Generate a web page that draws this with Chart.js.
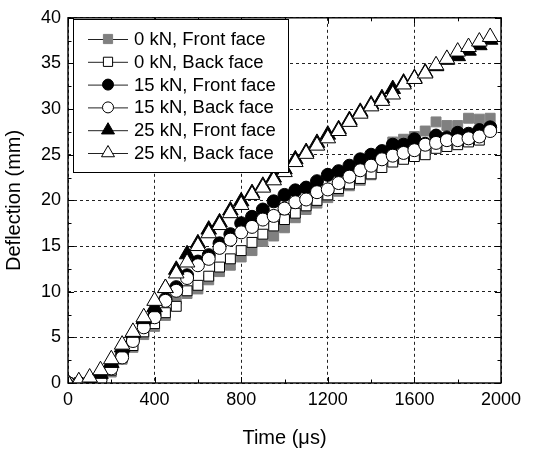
<!DOCTYPE html>
<html><head><meta charset="utf-8">
<script src="https://cdn.jsdelivr.net/npm/chart.js@4"></script>
<style>html,body{margin:0;padding:0;background:#fff;}</style>
</head><body>
<canvas id="c" width="546" height="452"></canvas>
<script>
const times = [0,50,100,150,200,250,300,350,400,450,500,550,600,650,700,750,800,850,900,950,1000,1050,1100,1150,1200,1250,1300,1350,1400,1450,1500,1550,1600,1650,1700,1750,1800,1850,1900,1950];
const front0 = [0,0,0,0.2,1.2,2.6,3.9,5.3,6.2,7.4,9.2,9.8,10.3,11.3,12.2,12.9,13.8,14.5,15.5,16.1,17.0,18.1,19.0,19.7,20.3,21.0,21.6,22.2,22.8,24.5,26.4,26.7,27.0,27.6,28.6,28.2,28.2,29.0,28.9,29.0];
const back0 = [0,0,0,0.4,1.4,2.8,4.1,5.6,6.5,7.7,8.4,10.1,10.7,11.7,12.7,13.6,14.5,15.4,16.3,17.2,17.9,18.6,19.4,20.0,20.6,21.3,21.8,22.4,22.9,23.6,24.2,24.5,24.8,25.0,25.7,25.9,26.1,26.4,26.6,27.9];
const front15 = [0,0,0.1,0.5,1.9,3.2,4.8,6.5,7.5,9.2,10.5,11.8,13.3,14.0,15.3,16.3,17.5,18.2,19.0,19.9,20.6,21.1,21.4,22.1,22.8,23.2,23.8,24.5,25.0,25.4,26.1,26.1,26.7,26.2,27.1,26.9,27.4,27.3,27.7,28.0];
const back15 = [0,0,0,0.3,1.6,2.8,4.6,6.1,7.2,9.0,10.1,11.5,12.9,13.6,14.8,15.7,16.5,17.1,17.9,18.3,19.1,19.8,20.1,20.9,21.2,21.9,22.6,23.3,23.8,24.5,24.9,25.2,25.5,26.1,26.3,26.6,26.6,26.8,27.0,27.6];
const front25 = [0,0.1,0.4,1.0,2.2,3.9,5.5,7.0,8.3,10.4,12.4,14.1,15.3,16.8,17.6,18.9,19.9,20.8,21.6,22.5,23.4,24.5,25.3,26.3,27.2,27.8,28.8,29.7,30.5,31.2,32.2,32.9,33.4,34.0,34.7,35.4,35.8,36.4,37.0,37.6];
const back25 = [0,0.2,0.6,1.4,2.6,4.2,5.6,7.2,9.0,10.4,12.0,13.2,15.0,16.4,17.3,18.6,19.5,20.6,21.4,22.2,23.1,24.2,25.1,26.0,26.8,27.6,28.6,29.5,30.3,30.9,31.6,32.7,33.3,33.9,34.8,35.5,36.3,36.8,37.4,37.9];
const seriesLabels = ['0 kN, Front face','0 kN, Back face','15 kN, Front face','15 kN, Back face','25 kN, Front face','25 kN, Back face'];
const xTickValues = [0,400,800,1200,1600,2000];
const xMinorValues = [200,600,1000,1400,1800];
const yTickValues = [0,5,10,15,20,25,30,35,40];
const yMinorValues = [2.5,7.5,12.5,17.5,22.5,27.5,32.5,37.5];

const FONT = 'Arial, "Liberation Sans", sans-serif';
const pts = arr => arr.map((v,i)=>({x:times[i], y:v}));

const styles = [
  {pointStyle:'rect', bg:'#808080', bd:'#808080', r:7, order:6},
  {pointStyle:'rect', bg:'#ffffff', bd:'#000000', r:7, order:5},
  {pointStyle:'circle', bg:'#000000', bd:'#000000', r:6.5, order:4},
  {pointStyle:'circle', bg:'#ffffff', bd:'#000000', r:6.5, order:3},
  {pointStyle:'triangle', bg:'#000000', bd:'#000000', r:9, order:2},
  {pointStyle:'triangle', bg:'#ffffff', bd:'#000000', r:9, order:1}
];
const allData = [front0, back0, front15, back15, front25, back25];

const datasets = allData.map((d,i)=>({
  label: seriesLabels[i],
  data: pts(d),
  showLine:false,
  pointStyle: styles[i].pointStyle,
  pointRadius: styles[i].r,
  pointHoverRadius: styles[i].r,
  pointBackgroundColor: styles[i].bg,
  pointBorderColor: styles[i].bd,
  pointBorderWidth: 1,
  order: styles[i].order,
  clip: 0
}));

function drawSym(ctx, st, x, y, r){
  ctx.save();
  ctx.fillStyle = st.bg; ctx.strokeStyle = st.bd; ctx.lineWidth = 1;
  ctx.beginPath();
  if (st.pointStyle==='rect'){ const s=r*Math.SQRT1_2; ctx.rect(x-s,y-s,2*s,2*s); }
  else if (st.pointStyle==='circle'){ ctx.arc(x,y,r,0,Math.PI*2); }
  else { const a=-Math.PI/2; for(let k=0;k<3;k++){const t=a+k*2*Math.PI/3; const px=x+r*Math.cos(t), py=y+r*Math.sin(t); if(k===0)ctx.moveTo(px,py); else ctx.lineTo(px,py);} ctx.closePath(); }
  ctx.fill(); ctx.stroke();
  ctx.restore();
}

const framePlugin = {
  id:'frame',
  afterDatasetsDraw(chart){
    const {ctx, chartArea:a, scales:{x, y}} = chart;
    ctx.save();
    ctx.strokeStyle='#000'; ctx.lineWidth=1.4;
    ctx.strokeRect(a.left, a.top, a.right-a.left, a.bottom-a.top);
    ctx.lineWidth=1;
    ctx.beginPath();
    const tick=(vals,len)=>{
      vals.forEach(v=>{const px=Math.round(x.getPixelForValue(v))+0.5; ctx.moveTo(px,a.bottom); ctx.lineTo(px,a.bottom-len); ctx.moveTo(px,a.top); ctx.lineTo(px,a.top+len);});
    };
    const ytick=(vals,len)=>{
      vals.forEach(v=>{const py=Math.round(y.getPixelForValue(v))+0.5; ctx.moveTo(a.left,py); ctx.lineTo(a.left+len,py); ctx.moveTo(a.right,py); ctx.lineTo(a.right-len,py);});
    };
    tick(xTickValues,6); tick(xMinorValues,3.5);
    ytick(yTickValues,6); ytick(yMinorValues,3.5);
    ctx.stroke();
    // legend
    const L={x1:73.5,y1:19.5,x2:288.5,y2:172.5};
    ctx.fillStyle='#fff'; ctx.fillRect(L.x1,L.y1,L.x2-L.x1,L.y2-L.y1);
    ctx.strokeStyle='#000'; ctx.lineWidth=1; ctx.strokeRect(L.x1,L.y1,L.x2-L.x1,L.y2-L.y1);
    ctx.font='18.5px '+FONT; ctx.textBaseline='middle'; ctx.textAlign='left';
    seriesLabels.forEach((lab,i)=>{
      const cy = 39 + i*22.8;
      ctx.strokeStyle='#222'; ctx.lineWidth=1;
      ctx.beginPath(); ctx.moveTo(88,cy+0.5); ctx.lineTo(128,cy+0.5); ctx.stroke();
      const st=styles[i];
      drawSym(ctx, st, 108, cy, st.pointStyle==='triangle'?7.5:(st.pointStyle==='circle'?5.5:6.5));
      ctx.fillStyle='#000'; ctx.fillText(lab, 134, cy+1);
    });
    ctx.restore();
  }
};

new Chart(document.getElementById('c'), {
  type:'scatter',
  data:{datasets},
  options:{
    responsive:false, animation:false, devicePixelRatio:1,
    layout:{padding:{top:15,right:45,left:0,bottom:0}},
    plugins:{legend:{display:false}, tooltip:{enabled:false}},
    scales:{
      x:{type:'linear', min:0, max:2000,
        afterBuildTicks: s => { s.ticks = xTickValues.map(v=>({value:v})); },
        afterFit: s => { s.height = 69; },
        ticks:{color:'#000', font:{size:18, family:FONT}, padding:6, maxRotation:0, callback: v => String(v)},
        grid:{color:'#222', lineWidth:1, drawTicks:false},
        border:{display:false, dash:[3,3]},
        title:{display:true, text:'Time (\u03bcs)', color:'#000', font:{size:20, family:FONT}, padding:{top:0,bottom:2}}
      },
      y:{type:'linear', min:0, max:40,
        afterBuildTicks: s => { s.ticks = yTickValues.map(v=>({value:v})); },
        afterFit: s => { s.width = 68; },
        ticks:{color:'#000', font:{size:18, family:FONT}, padding:7, callback: v => String(v)},
        grid:{color:'#222', lineWidth:1, drawTicks:false},
        border:{display:false, dash:[3,3]},
        title:{display:true, text:'Deflection (mm)', color:'#000', font:{size:20, family:FONT}, padding:{top:2,bottom:0}}
      }
    }
  },
  plugins:[framePlugin]
});
</script>
</body></html>
